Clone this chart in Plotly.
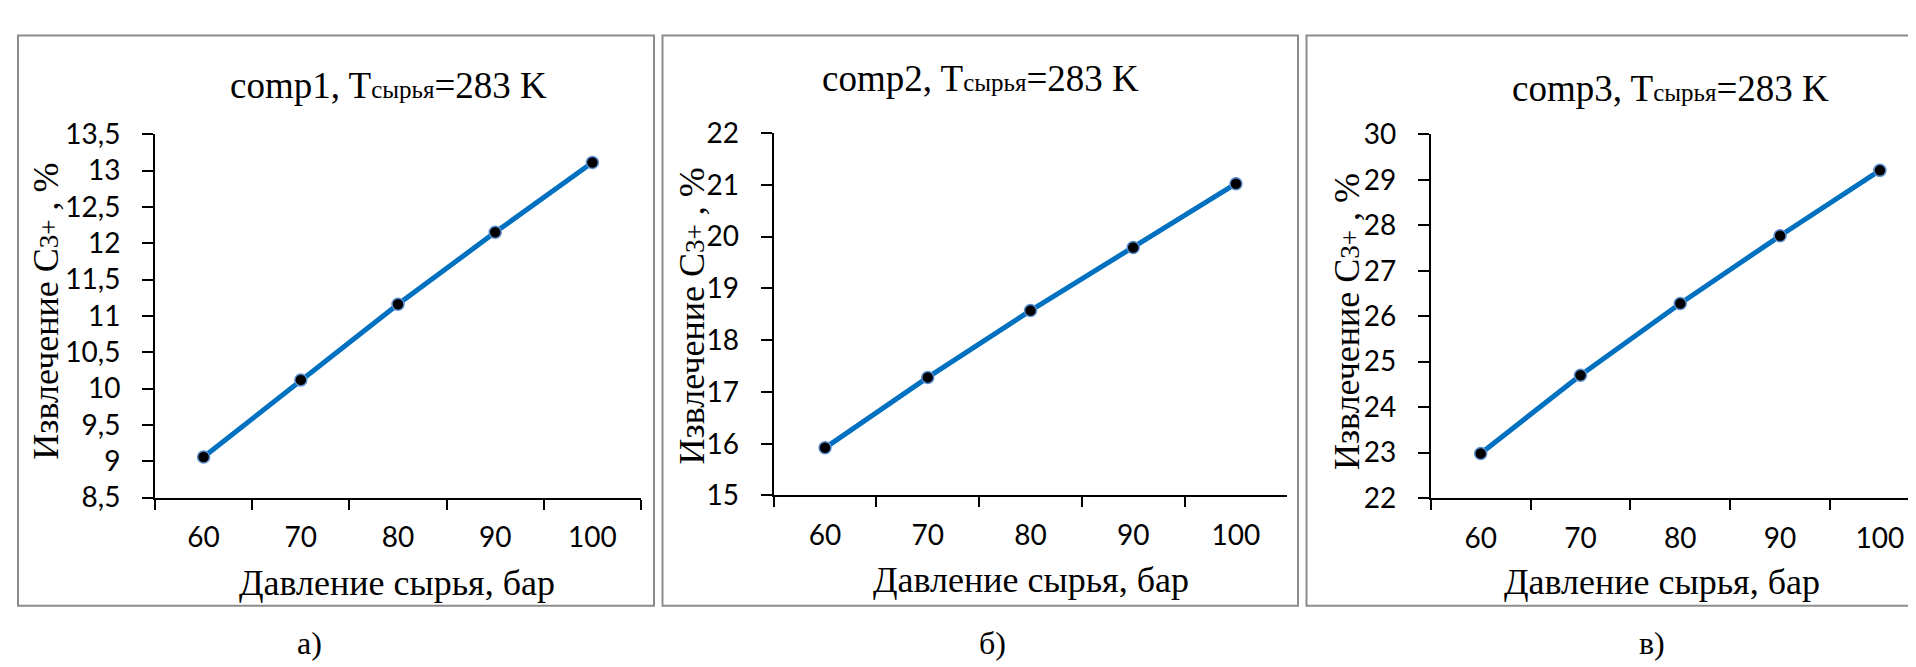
import plotly.graph_objects as go

W, H = 1916, 667

pressure = ["60", "70", "80", "90", "100"]
comp1 = [9.06, 10.12, 11.16, 12.15, 13.11]
comp2 = [15.92, 17.28, 18.57, 19.79, 21.02]
comp3 = [22.98, 24.70, 26.28, 27.77, 29.21]

y1_ticks = [8.5, 9, 9.5, 10, 10.5, 11, 11.5, 12, 12.5, 13, 13.5]
y1_text = ["8,5", "9", "9,5", "10", "10,5", "11", "11,5", "12", "12,5", "13", "13,5"]
y2_ticks = [15, 16, 17, 18, 19, 20, 21, 22]
y3_ticks = [22, 23, 24, 25, 26, 27, 28, 29, 30]

titles = ["comp1", "comp2", "comp3"]
sub_labels = ["а)", "б)", "в)"]
x_title = "Давление сырья, бар"
y_title = "Извлечение C<span style='font-size:27px'>3+</span> , %"

LINE = "#0070C0"
SERIF = "'Liberation Serif', 'Times New Roman', serif"
SANS = "Lato, 'Open Sans', sans-serif"

def px(x):
    return x / W

def py(y):
    return 1 - y / H

fig = go.Figure()

series = [comp1, comp2, comp3]
for i, vals in enumerate(series):
    fig.add_trace(go.Scatter(
        x=pressure, y=vals, mode="lines+markers",
        line=dict(color=LINE, width=5),
        marker=dict(size=12, color="black", line=dict(color="#5B8FD0", width=1.5)),
        xaxis="x" if i == 0 else f"x{i+1}",
        yaxis="y" if i == 0 else f"y{i+1}",
        showlegend=False,
    ))

geo = [
    dict(x0=147, x1=633, ytop=114, ybot=497, rng=[8.5, 13.5], xr=[-0.5, 4.5],
         yt=y1_ticks, ytt=y1_text),
    dict(x0=765.7, x1=1279.3, ytop=112.7, ybot=494.7, rng=[15, 22], xr=[-0.5, 4.5],
         yt=y2_ticks, ytt=[str(v) for v in y2_ticks]),
    dict(x0=1422.8, x1=1916, ytop=114.3, ybot=497.3, rng=[22, 30],
         xr=[-0.5, -0.5 + (1916 - 1422.8) / 99.8],
         yt=y3_ticks, ytt=[str(v) for v in y3_ticks]),
]

layout = dict(
    width=W, height=H,
    margin=dict(l=0, r=0, t=0, b=0),
    paper_bgcolor="white", plot_bgcolor="white",
    showlegend=False,
)

for i, g in enumerate(geo):
    xa = "xaxis" if i == 0 else f"xaxis{i+1}"
    ya = "yaxis" if i == 0 else f"yaxis{i+1}"
    xid = "x" if i == 0 else f"x{i+1}"
    yid = "y" if i == 0 else f"y{i+1}"
    layout[xa] = dict(
        domain=[px(g["x0"]), px(g["x1"])], anchor=yid, type="category",
        range=g["xr"], tickson="boundaries", ticks="outside", ticklen=10,
        tickwidth=2, tickcolor="black", showline=True, linecolor="black", linewidth=2,
        showgrid=False, zeroline=False, fixedrange=True,
        tickfont=dict(family=SANS, size=28, color="black"), ticklabelstandoff=14,
    )
    layout[ya] = dict(
        domain=[py(g["ybot"]), py(g["ytop"])], anchor=xid, range=g["rng"],
        tickvals=g["yt"], ticktext=g["ytt"], ticks="outside", ticklen=11,
        tickwidth=2, tickcolor="black", showline=True, linecolor="black", linewidth=2,
        showgrid=False, zeroline=False, fixedrange=True,
        tickfont=dict(family=SANS, size=28, color="black"), ticklabelstandoff=16,
    )

fig.update_layout(**layout)

borders = [(10, 646), (654.5, 1290), (1298.5, 1930)]
for x0, x1 in borders:
    fig.add_shape(type="rect", xref="paper", yref="paper",
                  x0=px(x0), x1=px(x1), y0=py(611), y1=py(10),
                  line=dict(color="#8C8C8C", width=2), layer="below")

title_pos = [(380.5, 62.5), (972, 55), (1662, 65.5)]
for t, (x, y) in zip(titles, title_pos):
    fig.add_annotation(
        text=f"{t}, T<span style='font-size:25px'>сырья</span>=283 K",
        xref="paper", yref="paper", x=px(x), y=py(y),
        xanchor="center", yanchor="middle", showarrow=False,
        font=dict(family=SERIF, size=37, color="black"))

xt_pos = [(389, 587), (1022.6, 584), (1654, 586)]
for x, y in xt_pos:
    fig.add_annotation(text=x_title, xref="paper", yref="paper", x=px(x), y=py(y),
                       xanchor="center", yanchor="middle", showarrow=False,
                       font=dict(family=SERIF, size=36, color="black"))

yt_pos = [(38, 301), (684, 306), (1339, 312)]
for x, y in yt_pos:
    fig.add_annotation(text=y_title, xref="paper", yref="paper", x=px(x), y=py(y),
                       xanchor="center", yanchor="middle", showarrow=False, textangle=-90,
                       font=dict(family=SERIF, size=36, color="black"))

sl_pos = [(301, 650), (984, 650), (1644, 650)]
for t, (x, y) in zip(sub_labels, sl_pos):
    fig.add_annotation(text=t, xref="paper", yref="paper", x=px(x), y=py(y),
                       xanchor="center", yanchor="middle", showarrow=False,
                       font=dict(family=SERIF, size=32, color="black"))

fig.write_html("out.html")
